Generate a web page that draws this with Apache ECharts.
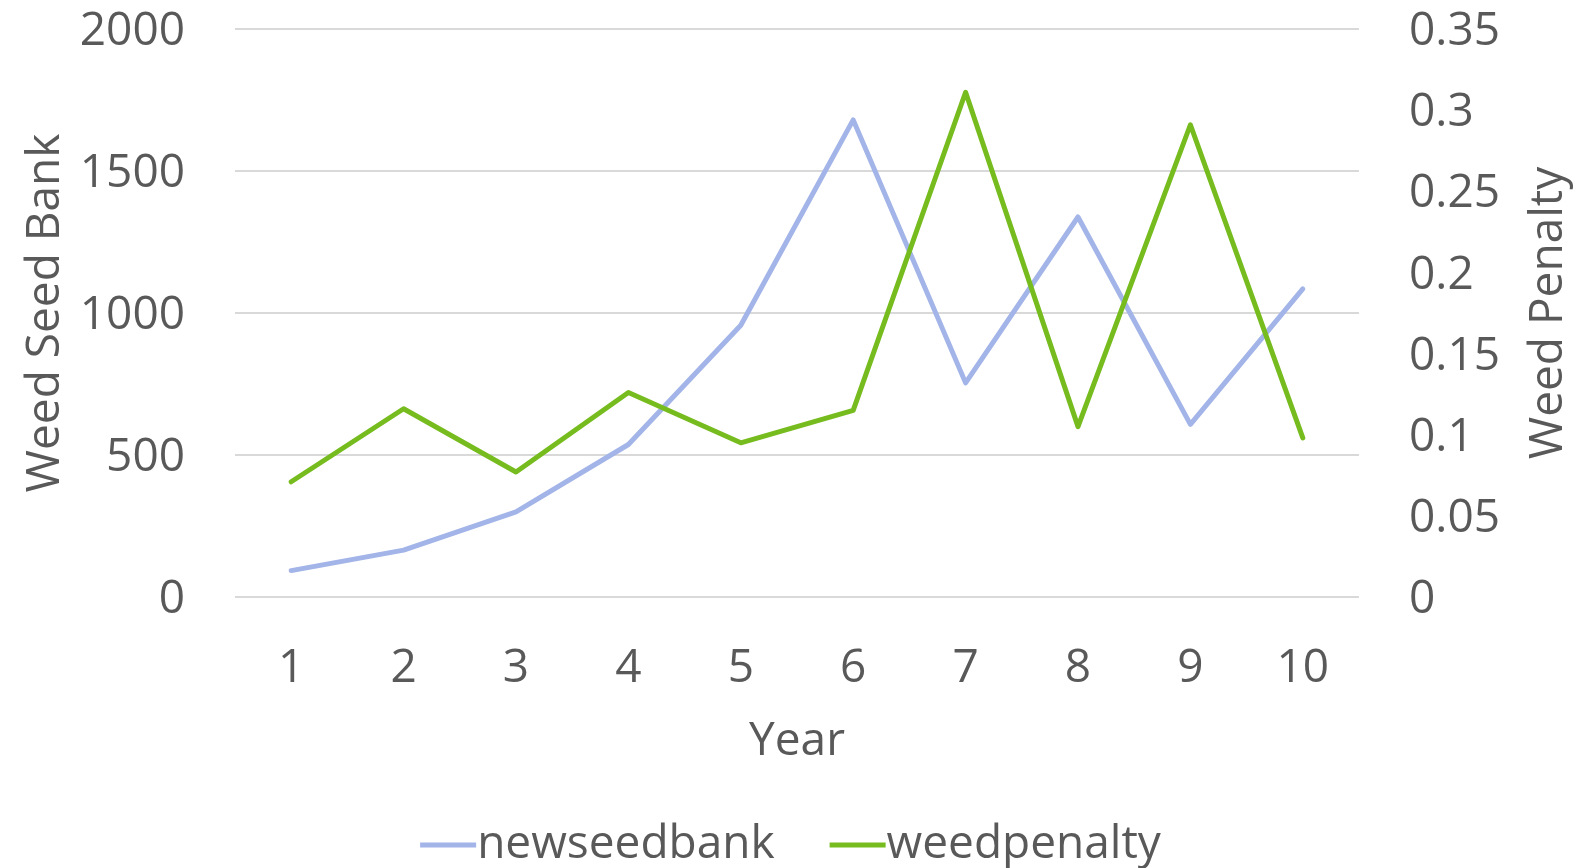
<!DOCTYPE html>
<html>
<head>
<meta charset="utf-8">
<script src="https://cdn.jsdelivr.net/npm/echarts@6/dist/echarts.min.js"></script>
<style>
html,body{margin:0;padding:0;background:#fff;}
#chart{width:1581px;height:868px;}
</style>
</head>
<body>
<div id="chart"></div>
<script>
const years = ['1','2','3','4','5','6','7','8','9','10'];
const newseedbank = [93, 165, 300, 537, 957, 1680, 754, 1338, 608, 1085];
const weedpenalty = [0.071, 0.116, 0.077, 0.126, 0.095, 0.115, 0.311, 0.105, 0.291, 0.098];

const FONT = '"Open Sans", sans-serif';
const TXT = '#595959';
const richLbl = {t: {fontFamily: FONT, fontSize: 46, color: TXT, padding: [6, 0, 0, 0]}};
const chart = echarts.init(document.getElementById('chart'));
chart.setOption({
  animation: false,
  backgroundColor: '#ffffff',
  textStyle: {fontFamily: FONT, color: TXT},
  grid: {left: 235, right: 222, top: 29, bottom: 271, containLabel: false},
  legend: {
    bottom: -5, left: 'center',
    icon: 'rect', itemWidth: 56, itemHeight: 5, itemGap: 55,
    textStyle: {fontFamily: FONT, fontSize: 46, color: TXT, padding: [0,0,0,-4]},
    data: ['newseedbank', 'weedpenalty']
  },
  xAxis: {
    type: 'category', data: years, boundaryGap: true,
    name: 'Year', nameLocation: 'middle', nameGap: 122,
    nameTextStyle: {fontFamily: FONT, fontSize: 46, color: TXT},
    axisLine: {show: false}, axisTick: {show: false},
    axisLabel: {fontFamily: FONT, fontSize: 46, color: TXT, margin: 49}
  },
  yAxis: [{
    type: 'value', min: 0, max: 2000, interval: 500,
    name: 'Weed Seed Bank', nameLocation: 'middle', nameGap: 166, nameRotate: 90,
    nameTextStyle: {fontFamily: FONT, fontSize: 46, color: TXT},
    axisLine: {show: false}, axisTick: {show: false},
    axisLabel: {fontFamily: FONT, fontSize: 46, color: TXT, margin: 50, rich: richLbl,
      formatter: function (v) { return '{t|' + String(v) + '}'; }},
    splitLine: {lineStyle: {color: '#D9D9D9', width: 2}}
  }, {
    type: 'value', min: 0, max: 0.35, interval: 0.05, position: 'right',
    name: 'Weed Penalty', nameLocation: 'middle', nameGap: 167, nameRotate: 90,
    nameTextStyle: {fontFamily: FONT, fontSize: 46, color: TXT},
    axisLine: {show: false}, axisTick: {show: false},
    axisLabel: {fontFamily: FONT, fontSize: 46, color: TXT, margin: 50, rich: richLbl,
      formatter: function (v) { return '{t|' + String(+v.toFixed(2)) + '}'; }},
    splitLine: {show: false}
  }],
  series: [{
    name: 'newseedbank', type: 'line', data: newseedbank, yAxisIndex: 0,
    symbol: 'none', color: '#A2B4E8',
    lineStyle: {width: 5, color: '#A2B4E8', cap: 'round', join: 'round'}
  }, {
    name: 'weedpenalty', type: 'line', data: weedpenalty, yAxisIndex: 1,
    symbol: 'none', color: '#77BC1F',
    lineStyle: {width: 5, color: '#77BC1F', cap: 'round', join: 'round'}
  }]
});
</script>
</body>
</html>
